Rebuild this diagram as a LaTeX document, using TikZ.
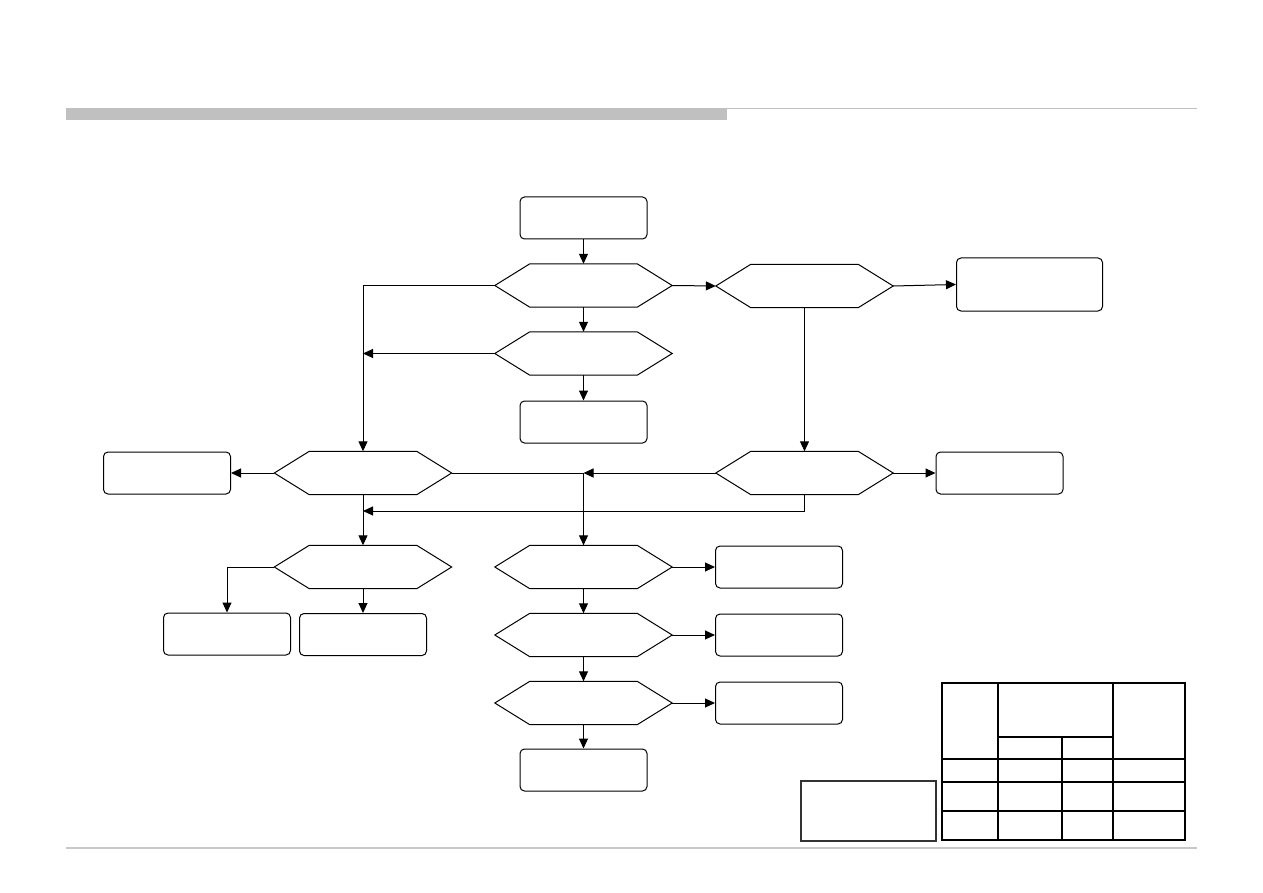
\documentclass[tikz,border=0pt]{standalone}
\usetikzlibrary{arrows.meta,calc}
\definecolor{hdrgray}{RGB}{192,192,192}
\definecolor{linegray}{RGB}{200,200,200}
\newcommand\hexat[2]{%
  \node[hexfrm] (#1) at (#2) {};
  \draw[hexline] (#1.west) -- ($(#1.north west)+(35,0)$) -- ($(#1.north east)+(-35,0)$) -- (#1.east)
    -- ($(#1.south east)+(-35,0)$) -- ($(#1.south west)+(35,0)$) -- cycle;}
\begin{document}
\begin{tikzpicture}[x=1pt,y=-1pt,
  box/.style={draw,rounded corners=4.5pt,line width=1pt,minimum width=127pt,minimum height=42pt,inner sep=0pt},
  sqbox/.style={draw=black!80,line width=1.1pt,minimum width=135pt,minimum height=60pt,inner sep=0pt},
  hexfrm/.style={minimum width=177pt,minimum height=43pt,inner sep=0pt},
  hexline/.style={draw,line width=1pt},
  conn/.style={line width=1pt,-{Triangle[length=10pt,width=9pt]}},
  plainline/.style={line width=1pt},
  tthin/.style={line width=1.2pt},
  tthick/.style={line width=2.3pt}]
\useasboundingbox (0,0) rectangle (1263,893);
% header
\fill[hdrgray] (66,108) rectangle (727,120);
\draw[hdrgray,line width=1.2pt] (727,108.6) -- (1197,108.6);
\draw[linegray,line width=1.2pt] (66,848) -- (1197,848);
% rounded boxes
\node[box] (R1) at (583.5,218) {};
\node[box,minimum width=146pt,minimum height=53pt] (R2) at (1029.5,284.5) {};
\node[box] (R3) at (583.5,422) {};
\node[box] (R4) at (167,473) {};
\node[box] (R5) at (999.5,473) {};
\node[box] (R6) at (227,634) {};
\node[box] (R7) at (363,634.5) {};
\node[box] (R8) at (779,567) {};
\node[box] (R9) at (779,635) {};
\node[box] (R10) at (779,703) {};
\node[box] (R11) at (583.5,770) {};
\node[sqbox] (S1) at (868.5,811) {};
% hexagons
\hexat{H1}{583.5,285.5}
\hexat{H2}{583.5,353.5}
\hexat{H3}{804.5,286}
\hexat{H4}{363,473}
\hexat{H5}{804.5,473}
\hexat{H6}{363,567}
\hexat{H7}{583.5,567}
\hexat{H8}{583.5,635}
\hexat{H9}{583.5,703}
% junctions
\coordinate (j1) at (363,353.5);
\coordinate (j2) at (583.5,473);
\coordinate (j3) at (363,511);
% connectors
\draw[conn] (R1.south) -- (H1.north);
\draw[conn] (H1.east) -- (H3.west);
\draw[conn] (H3.east) -- (R2.west);
\draw[conn] (H1.west) -| (H4.north);
\draw[conn] (H1.south) -- (H2.north);
\draw[conn] (H2.west) -- (j1);
\draw[conn] (H2.south) -- (R3.north);
\draw[conn] (H3.south) -- (H5.north);
\draw[conn] (H4.west) -- (R4.east);
\draw[plainline] (H4.east) -- (j2);
\draw[conn] (H5.west) -- (j2);
\draw[conn] (j2) -- (H7.north);
\draw[conn] (H5.east) -- (R5.west);
\draw[conn] (H5.south) |- (j3);
\draw[conn] (H4.south) -- (H6.north);
\draw[conn] (H6.west) -| (R6.north);
\draw[conn] (H6.south) -- (R7.north);
\draw[conn] (H7.east) -- (R8.west);
\draw[conn] (H7.south) -- (H8.north);
\draw[conn] (H8.east) -- (R9.west);
\draw[conn] (H8.south) -- (H9.north);
\draw[conn] (H9.east) -- (R10.west);
\draw[conn] (H9.south) -- (R11.north);
% table
\draw[line width=1.4pt] (942,683) rectangle (1185,840);
\draw[tthin] (998,683) -- (998,840);
\draw[tthin] (1062,737) -- (1062,840);
\draw[tthick] (1113,683) -- (1113,840);
\draw[tthick] (998,737) -- (1113,737);
\draw[tthin] (942,759) -- (1185,759);
\draw[tthick] (942,782) -- (1185,782);
\draw[tthin] (942,811) -- (1185,811);
\draw[line width=2pt] (1185,683) -- (1185,840);
\end{tikzpicture}
\end{document}
